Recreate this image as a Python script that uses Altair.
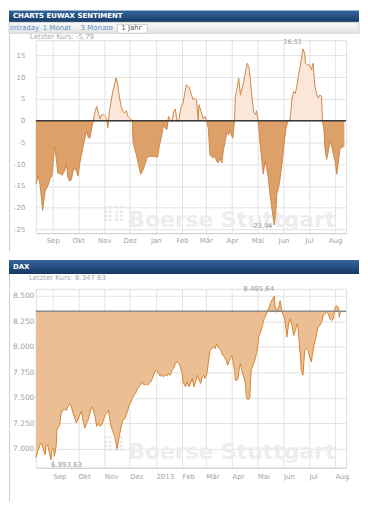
import altair as alt
import pandas as pd

# ---------------- data ----------------
sent_dates = [
    "2012-08-12","2012-08-15","2012-08-17","2012-08-20","2012-08-23","2012-08-27","2012-08-29","2012-08-31",
    "2012-09-02","2012-09-03","2012-09-05","2012-09-07","2012-09-10","2012-09-12","2012-09-15","2012-09-17",
    "2012-09-19","2012-09-21","2012-09-23","2012-09-25","2012-09-27","2012-09-29","2012-10-01","2012-10-03",
    "2012-10-05","2012-10-07","2012-10-09","2012-10-11","2012-10-13","2012-10-15","2012-10-17","2012-10-19",
    "2012-10-21","2012-10-23","2012-10-25","2012-10-27","2012-10-29","2012-10-31","2012-11-02","2012-11-04",
    "2012-11-05","2012-11-07","2012-11-09","2012-11-11","2012-11-13","2012-11-15","2012-11-17","2012-11-19",
    "2012-11-21","2012-11-23","2012-11-25","2012-11-27","2012-11-29","2012-12-01","2012-12-04","2012-12-05",
    "2012-12-07","2012-12-09","2012-12-11","2012-12-14","2012-12-17","2012-12-19","2012-12-21","2012-12-23",
    "2012-12-27","2012-12-31","2013-01-03","2013-01-05","2013-01-08","2013-01-10","2013-01-12","2013-01-14",
    "2013-01-16","2013-01-18","2013-01-20","2013-01-22","2013-01-24","2013-01-26","2013-01-28","2013-01-30",
    "2013-01-31","2013-02-02","2013-02-06","2013-02-09","2013-02-11","2013-02-14","2013-02-16","2013-02-18",
    "2013-02-20","2013-02-21","2013-02-24","2013-02-26","2013-02-28","2013-03-02","2013-03-04","2013-03-06",
    "2013-03-09","2013-03-12","2013-03-14","2013-03-16","2013-03-18","2013-03-20","2013-03-22","2013-03-24",
    "2013-03-26","2013-03-28","2013-03-30","2013-03-31","2013-04-02","2013-04-04","2013-04-05","2013-04-07",
    "2013-04-09","2013-04-11","2013-04-13","2013-04-15","2013-04-17","2013-04-19","2013-04-21","2013-04-23",
    "2013-04-25","2013-04-27","2013-04-29","2013-04-30","2013-05-02","2013-05-04","2013-05-06","2013-05-08",
    "2013-05-10","2013-05-12","2013-05-14","2013-05-16","2013-05-18","2013-05-20","2013-05-21","2013-05-23",
    "2013-05-24","2013-05-26","2013-05-27","2013-05-29","2013-05-31","2013-06-02","2013-06-04","2013-06-06",
    "2013-06-08","2013-06-09","2013-06-11","2013-06-13","2013-06-15","2013-06-17","2013-06-19","2013-06-21",
    "2013-06-22","2013-06-24","2013-06-26","2013-06-27","2013-06-30","2013-07-02","2013-07-04","2013-07-06",
    "2013-07-08","2013-07-10","2013-07-12","2013-07-14","2013-07-16","2013-07-17","2013-07-19","2013-07-20",
    "2013-07-22","2013-07-24","2013-07-26","2013-07-28","2013-07-30","2013-08-01","2013-08-03","2013-08-05",
    "2013-08-07","2013-08-09","2013-08-11","2013-08-12",
]
sent_values = [
    -14.6,-12.7,-14.6,-20.6,-16.2,-14.6,-13.1,-12.8,
    -8.5,-5.9,-8.5,-12.0,-12.2,-12.5,-11.6,-9.7,
    -13.1,-13.9,-13.5,-11.6,-10.8,-11.6,-12.7,-9.7,
    -7.8,-5.9,-4.0,-2.4,-3.8,-4.0,-1.7,0.0,
    2.1,3.3,1.7,0.5,1.4,1.4,1.0,0.2,
    -1.7,2.1,4.4,6.7,8.2,9.9,8.2,5.2,
    3.3,2.1,1.8,2.3,1.0,0.5,0.0,-4.7,
    -6.6,-7.8,-9.7,-12.3,-11.2,-10.0,-8.9,-8.2,
    -8.2,-8.2,-8.4,-5.9,-3.2,-0.9,-1.7,-2.0,
    1.0,0.2,-0.3,2.1,2.7,-0.1,-0.1,2.5,
    3.3,4.0,8.2,7.8,6.7,4.8,5.2,4.8,
    0.2,3.7,1.8,0.5,1.0,0.0,-1.7,-7.8,
    -8.5,-8.2,-9.3,-9.7,-8.5,-9.7,-6.6,-4.7,
    -2.8,-3.2,-2.0,-3.2,-4.0,0.0,5.6,7.5,
    9.8,5.9,7.5,9.0,11.3,13.2,12.4,9.0,
    4.8,1.8,1.4,2.3,0.0,-4.7,-8.5,-12.3,
    -9.3,-10.8,-13.1,-16.9,-19.9,-22.6,-23.94,-20.7,
    -16.9,-15.4,-14.6,-11.6,-8.5,-4.7,-1.7,-0.2,
    0.0,0.6,5.2,6.7,6.3,8.2,10.9,12.8,
    13.9,16.51,15.5,13.2,12.8,12.8,11.7,13.2,
    8.2,6.3,5.2,5.9,5.6,0.0,-2.4,-6.2,
    -8.9,-7.0,-4.7,-5.9,-7.8,-9.3,-12.3,-9.3,
    -6.2,-6.2,-5.9,-5.79,
]

dax_dates = [
    "2012-08-12","2012-08-15","2012-08-17","2012-08-19","2012-08-21","2012-08-23","2012-08-24","2012-08-26",
    "2012-08-28","2012-08-30","2012-08-31","2012-09-02","2012-09-03","2012-09-05","2012-09-06","2012-09-07",
    "2012-09-09","2012-09-11","2012-09-13","2012-09-15","2012-09-17","2012-09-19","2012-09-21","2012-09-23",
    "2012-09-25","2012-09-27","2012-09-29","2012-10-01","2012-10-03","2012-10-05","2012-10-07","2012-10-09",
    "2012-10-11","2012-10-13","2012-10-15","2012-10-17","2012-10-19","2012-10-21","2012-10-23","2012-10-25",
    "2012-10-27","2012-10-29","2012-10-31","2012-11-02","2012-11-04","2012-11-06","2012-11-07","2012-11-09",
    "2012-11-11","2012-11-13","2012-11-15","2012-11-16","2012-11-17","2012-11-19","2012-11-21","2012-11-23",
    "2012-11-25","2012-11-27","2012-11-29","2012-11-30","2012-12-02","2012-12-04","2012-12-06","2012-12-08",
    "2012-12-10","2012-12-12","2012-12-14","2012-12-16","2012-12-18","2012-12-20","2012-12-22","2012-12-24",
    "2012-12-26","2012-12-28","2012-12-30","2012-12-31","2013-01-02","2013-01-04","2013-01-06","2013-01-08",
    "2013-01-10","2013-01-12","2013-01-14","2013-01-16","2013-01-18","2013-01-20","2013-01-22","2013-01-24",
    "2013-01-26","2013-01-28","2013-01-30","2013-02-01","2013-02-02","2013-02-05","2013-02-07","2013-02-09",
    "2013-02-11","2013-02-13","2013-02-15","2013-02-17","2013-02-19","2013-02-21","2013-02-23","2013-02-25",
    "2013-02-27","2013-02-28","2013-03-02","2013-03-04","2013-03-06","2013-03-08","2013-03-10","2013-03-12",
    "2013-03-14","2013-03-15","2013-03-17","2013-03-19","2013-03-21","2013-03-23","2013-03-25","2013-03-27",
    "2013-03-29","2013-03-31","2013-04-01","2013-04-02","2013-04-04","2013-04-05","2013-04-07","2013-04-08",
    "2013-04-10","2013-04-11","2013-04-13","2013-04-15","2013-04-17","2013-04-18","2013-04-20","2013-04-22",
    "2013-04-23","2013-04-24","2013-04-26","2013-04-28","2013-04-30","2013-05-01","2013-05-03","2013-05-05",
    "2013-05-07","2013-05-09","2013-05-11","2013-05-13","2013-05-15","2013-05-17","2013-05-19","2013-05-21",
    "2013-05-22","2013-05-24","2013-05-26","2013-05-28","2013-05-30","2013-05-31","2013-06-02","2013-06-04",
    "2013-06-05","2013-06-07","2013-06-09","2013-06-11","2013-06-13","2013-06-15","2013-06-17","2013-06-18",
    "2013-06-19","2013-06-21","2013-06-22","2013-06-24","2013-06-25","2013-06-26","2013-06-28","2013-06-30",
    "2013-07-02","2013-07-04","2013-07-05","2013-07-07","2013-07-09","2013-07-10","2013-07-12","2013-07-14",
    "2013-07-16","2013-07-18","2013-07-20","2013-07-22","2013-07-24","2013-07-26","2013-07-28","2013-07-30",
    "2013-08-01","2013-08-03","2013-08-05","2013-08-06","2013-08-07","2013-08-08",
]
dax_values = [
    6915,6993,7042,7052,6993,6945,7026,7042,
    6961,6893.63,6993,7010,6929,7026,7188,7204,
    7227,7350,7382,7388,7376,7415,7440,7415,
    7350,7301,7253,7292,7334,7366,7269,7204,
    7253,7285,7350,7415,7382,7317,7220,7253,
    7220,7236,7285,7334,7350,7382,7317,7220,
    7172,7123,7058,7000,7042,7139,7220,7285,
    7292,7334,7382,7421,7447,7496,7522,7544,
    7583,7609,7625,7658,7625,7635,7625,7641,
    7658,7690,7739,7765,7771,7739,7713,7722,
    7706,7730,7713,7739,7722,7771,7787,7836,
    7852,7836,7803,7739,7658,7609,7658,7609,
    7641,7690,7609,7658,7722,7674,7641,7706,
    7722,7690,7722,7836,7965,7982,7998,7982,
    8030,8014,7982,7965,7917,7901,7868,7820,
    7868,7901,7917,7868,7771,7674,7674,7690,
    7803,7836,7755,7706,7641,7512,7480,7496,
    7674,7787,7820,7868,7933,7982,8111,8144,
    8208,8273,8306,8354,8387,8435,8468,8495.64,
    8403,8338,8387,8451,8354,8322,8289,8176,
    8095,8225,8273,8208,8111,8160,8225,8208,
    8095,7901,7771,7722,7836,7965,7982,7965,
    7901,7852,7917,8014,8079,8127,8192,8208,
    8241,8306,8322,8338,8322,8273,8257,8273,
    8387,8403,8387,8289,8338,8347.63,
]

month_ticks = ["2012-09-01","2012-10-01","2012-11-01","2012-12-01","2013-01-01","2013-02-01",
               "2013-03-01","2013-04-01","2013-05-01","2013-06-01","2013-07-01","2013-08-01"]
top_month_labels = ["Sep","Okt","Nov","Dez","Jan","Feb","Mär","Apr","Mai","Jun","Jul","Aug"]
bottom_month_labels = ["Sep","Okt","Nov","Dez","2013","Feb","Mär","Apr","Mai","Jun","Jul","Aug"]
x_domain = ["2012-08-12", "2013-08-14"]
sent_ticks = [-25, -20, -15, -10, -5, 0, 5, 10, 15]
sent_domain = [-25.83, 18.51]
dax_ticks = [7000, 7250, 7500, 7750, 8000, 8250, 8500]
dax_domain = [6815, 8568]
sent_last = -5.79
dax_last = 8347.63

# ---------------- helpers ----------------
def ts(s):
    return int(pd.Timestamp(s, tz="UTC").value // 10**6)

def de_num(v, thousands=False):
    s = f"{v:,.2f}" if thousands else f"{v:.2f}"
    return s.replace(",", "#").replace(".", ",").replace("#", ".")

tick_ts = [ts(d) for d in month_ticks]
dom_ts = [ts(d) for d in x_domain]
axis_vals = tick_ts + [dom_ts[1]]
first_year = pd.Timestamp(month_ticks[0]).year
first_month = pd.Timestamp(month_ticks[0]).month - 1

def label_expr(labels):
    lab = "[" + ",".join("'" + l + "'" for l in labels) + "]"
    idx = f"((utcyear(datum.value) - {first_year}) * 12 + utcmonth(datum.value) - {first_month})"
    return (f"utcdate(datum.value) == 1 && {idx} >= 0 && {idx} < {len(labels)} "
            f"? {lab}[{idx}] : ''")

W = 312
H1 = 194
H2 = 180
GRID = "#E3E3E3"
LAB = "#A3A3A3"
FONT = "DejaVu Sans"

one = pd.DataFrame({"k": [0]})

def hdr_grad():
    return alt.LinearGradient(gradient="linear",
                              stops=[alt.GradientStop(color="#34679E", offset=0),
                                     alt.GradientStop(color="#163963", offset=1)],
                              x1=0, x2=0, y1=0, y2=1)

def tab_grad():
    return alt.LinearGradient(gradient="linear",
                              stops=[alt.GradientStop(color="#FBFBFB", offset=0),
                                     alt.GradientStop(color="#E3E3E3", offset=1)],
                              x1=0, x2=0, y1=0, y2=1)

def deco_rect(x, x2, y, y2, **kw):
    return alt.Chart(one).mark_rect(**kw).encode(
        x=alt.value(x), x2=alt.value(x2), y=alt.value(y), y2=alt.value(y2))

def deco_text(txt, x, y, baseline="middle", **kw):
    return alt.Chart(pd.DataFrame({"t": [txt]})).mark_text(
        font=FONT, align="left", baseline=baseline, **kw).encode(
        text="t:N", x=alt.value(x), y=alt.value(y))

def deco_vline(x, y, y2, color="#CFCFCF"):
    return alt.Chart(one).mark_rule(color=color, strokeWidth=1).encode(
        x=alt.value(x), y=alt.value(y), y2=alt.value(y2))

def x_enc(labels, align, pad):
    return alt.X("date:T", title=None,
                 scale=alt.Scale(type="utc", domain=dom_ts, nice=False),
                 axis=alt.Axis(values=axis_vals, tickCount=40, labelExpr=label_expr(labels),
                               grid=True, gridColor=GRID, domainColor="#D0D0D0", ticks=False,
                               labelColor=LAB, labelFontSize=7, labelFont=FONT,
                               labelPadding=pad, labelAlign=align, labelFlush=False,
                               labelOverlap=False))

# ---------------- top chart: EUWAX sentiment ----------------
sent_df = pd.DataFrame({"date": sent_dates, "v": sent_values})
xs = x_enc(top_month_labels, "center", 3)
ys_axis = alt.Axis(values=sent_ticks, tickCount=40, labelExpr="datum.value + ''", grid=True,
                   gridColor=GRID, domain=False, ticks=False, labelPadding=11, labelColor=LAB,
                   labelFontSize=7, labelFont=FONT, labelOverlap=False)
ys_scale = alt.Scale(domain=sent_domain, nice=False, zero=False)

base_s = alt.Chart(sent_df).transform_calculate(
    neg="min(datum.v, 0)", pos="max(datum.v, 0)", zero="0")

wm1 = deco_text("Boerse Stuttgart", 93, 188, baseline="alphabetic", fontSize=22,
                fontWeight="bold", color="#EDEDED")
dots1 = deco_text("⣿⣿", 67, 174, fontSize=15, color="#E4E4E4")

neg = base_s.mark_area(color="#DDA069").encode(
    x=xs, y=alt.Y("neg:Q", title=None, scale=ys_scale, axis=ys_axis), y2="zero:Q")
pos = base_s.mark_area(color="#FAE7D9").encode(x=xs, y="pos:Q", y2="zero:Q")
line_s = base_s.mark_line(color="#CF8747", strokeWidth=1).encode(x=xs, y="v:Q")
zero_rule = alt.Chart(one).mark_rule(color="#3A3A3A", strokeWidth=1.3).encode(y=alt.datum(0))

i_mx = sent_values.index(max(sent_values))
i_mn = sent_values.index(min(sent_values))
ext_s = pd.DataFrame({"date": [sent_dates[i_mx], sent_dates[i_mn]],
                      "v": [sent_values[i_mx], sent_values[i_mn]],
                      "t": [de_num(sent_values[i_mx]), de_num(sent_values[i_mn])]})
lab_mx = alt.Chart(ext_s.iloc[[0]]).mark_text(font=FONT, fontSize=6.5, color="#9A9A9A",
                                               align="right", dx=-1, dy=-7).encode(
    x="date:T", y="v:Q", text="t:N")
lab_mn = alt.Chart(ext_s.iloc[[1]]).mark_text(font=FONT, fontSize=6.5, color="#9A9A9A",
                                               align="right", dx=-2, dy=1).encode(
    x="date:T", y="v:Q", text="t:N")

top_deco = [
    deco_vline(-26.5, -7, 212),
    deco_rect(-27, 325, -30, -18, color=hdr_grad()),
    deco_text("CHARTS EUWAX SENTIMENT", -23, -24, fontSize=7, fontWeight="bold", color="white"),
    deco_rect(-27, 325, -18, -7, color=tab_grad(), stroke="#CCCCCC", strokeWidth=0.8),
    deco_rect(82, 112, -16, -7, color="white", stroke="#C4C4C4", strokeWidth=0.8),
    deco_text("Intraday", -26, -12, fontSize=7, color="#5F91C6"),
    deco_text("1 Monat", 7, -12, fontSize=7, color="#5F91C6"),
    deco_text("3 Monate", 45, -12, fontSize=7, color="#5F91C6"),
    deco_text("1 Jahr", 86, -12, fontSize=7, color="#555555"),
    deco_text("Letzter Kurs: " + de_num(sent_last), -6, -3, fontSize=7, color="#A8A8A8"),
]

top = alt.layer(wm1, dots1, neg, pos, line_s, zero_rule, lab_mx, lab_mn, *top_deco).properties(
    width=W, height=H1)

# ---------------- bottom chart: DAX ----------------
dax_df = pd.DataFrame({"date": dax_dates, "v": dax_values})
xb = x_enc(bottom_month_labels, "left", 5)
yb_axis = alt.Axis(values=dax_ticks, tickCount=40,
                   labelExpr="replace(format(datum.value, ','), ',', '.')",
                   grid=True, gridColor=GRID, domain=False, ticks=False, labelPadding=2,
                   labelColor=LAB, labelFontSize=7.5, labelFont=FONT, labelOverlap=False)
yb_scale = alt.Scale(domain=dax_domain, nice=False, zero=False)

base_d = alt.Chart(dax_df).transform_calculate(ref=str(dax_last))

wm2 = deco_text("Boerse Stuttgart", 93, 171, baseline="alphabetic", fontSize=22,
                fontWeight="bold", color="#EDEDED")
dots2 = deco_text("⣿⣿", 67, 155, fontSize=15, color="#E4E4E4")

area_d = base_d.mark_area(color="#ECBE94").encode(
    x=xb, y=alt.Y("v:Q", title=None, scale=yb_scale, axis=yb_axis), y2="ref:Q")
line_d = base_d.mark_line(color="#D5852E", strokeWidth=1).encode(x=xb, y="v:Q")
ref_rule = alt.Chart(one).mark_rule(color="#8E8A86", strokeWidth=1.4).encode(y=alt.datum(dax_last))

j_mx = dax_values.index(max(dax_values))
j_mn = dax_values.index(min(dax_values))
ext_d = pd.DataFrame({"date": [dax_dates[j_mx], dax_dates[j_mn]],
                      "v": [dax_values[j_mx], dax_values[j_mn]],
                      "t": [de_num(dax_values[j_mx], True), de_num(dax_values[j_mn], True)]})
lab_dmx = alt.Chart(ext_d.iloc[[0]]).mark_text(font=FONT, fontSize=7, color="#9A9A9A",
                                                align="right", dx=0, dy=-7).encode(
    x="date:T", y="v:Q", text="t:N")
lab_dmn = alt.Chart(ext_d.iloc[[1]]).mark_text(font=FONT, fontSize=7, color="#9A9A9A",
                                                align="left", dx=0, dy=5).encode(
    x="date:T", y="v:Q", text="t:N")

bot_deco = [
    deco_vline(-26.5, -15, 214),
    deco_rect(-27, 325, -29, -15, color=hdr_grad()),
    deco_text("DAX", -23, -22, fontSize=7, fontWeight="bold", color="white"),
    deco_text("Letzter Kurs: " + de_num(dax_last, True), -7, -11, fontSize=7, color="#A8A8A8"),
]

bottom = alt.layer(wm2, dots2, area_d, line_d, ref_rule, lab_dmx, lab_dmn, *bot_deco).properties(
    width=W, height=H2)

chart = alt.vconcat(top, bottom, spacing=56, bounds="flush").properties(
    padding={"left": 0, "top": 0, "right": 0, "bottom": 0}, background="white"
).configure_view(stroke=None).configure(font=FONT)

chart.save("out.html", embed_options={"renderer": "svg", "actions": False})
